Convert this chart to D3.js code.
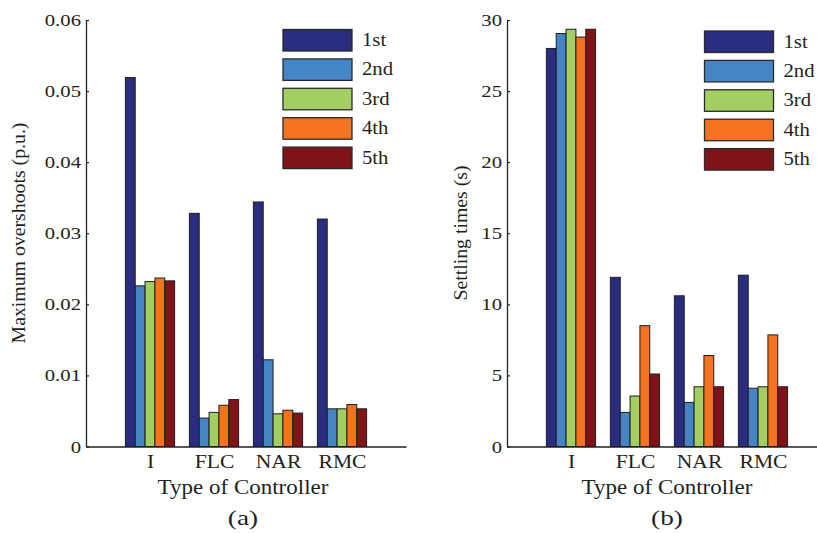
<!DOCTYPE html>
<html>
<head>
<meta charset="utf-8">
<script src="https://cdn.jsdelivr.net/npm/d3@7"></script>
<style>
  html, body { margin: 0; padding: 0; background: #fff; }
  svg { display: block; }
  text { font-family: "Liberation Serif", "Times New Roman", serif; fill: #231f20; }
</style>
</head>
<body>
<svg id="chart" width="817" height="533"></svg>
<script>
// ---------------- DATA ----------------
const categories = ["I", "FLC", "NAR", "RMC"];
const seriesNames = ["1st", "2nd", "3rd", "4th", "5th"];
// Panel (a): Maximum overshoots (p.u.), one array per series (values per controller)
const overshoot1st = [0.0519, 0.0328, 0.0344, 0.0320];
const overshoot2nd = [0.0226, 0.0040, 0.0122, 0.0053];
const overshoot3rd = [0.0232, 0.0048, 0.0046, 0.0053];
const overshoot4th = [0.0237, 0.0058, 0.0051, 0.0059];
const overshoot5th = [0.0233, 0.0066, 0.0047, 0.0053];
// Panel (b): Settling times (s)
const settling1st = [28.0, 11.9, 10.6, 12.05];
const settling2nd = [29.05, 2.4, 3.1, 4.1];
const settling3rd = [29.35, 3.55, 4.2, 4.2];
const settling4th = [28.8, 8.5, 6.4, 7.85];
const settling5th = [29.35, 5.1, 4.2, 4.2];
// Tick labels
const overshootTicks = [0, 0.01, 0.02, 0.03, 0.04, 0.05, 0.06];
const overshootTickLabels = ["0", "0.01", "0.02", "0.03", "0.04", "0.05", "0.06"];
const settlingTicks = [0, 5, 10, 15, 20, 25, 30];
const settlingTickLabels = ["0", "5", "10", "15", "20", "25", "30"];

const colors = ["#2a2c7f", "#4485c5", "#a3cf62", "#f47321", "#7f1418"];

// ---------------- DRAW ----------------
const svg = d3.select("#chart");

function stretchedText(g, x, y, str, size, anchor, sx) {
  const t = g.append("g").attr("transform", `translate(${x},${y}) scale(${sx},1)`);
  t.append("text")
    .attr("x", 0).attr("y", 0)
    .attr("text-anchor", anchor)
    .attr("font-size", size)
    .text(str);
  return t;
}

function panel(opts) {
  const g = svg.append("g");
  const x = d3.scaleLinear().domain([0, 5]).range([opts.x0, opts.x0 + 320]);
  const y = d3.scaleLinear().domain(opts.domain).range([446.5, 20]);
  const groupWidth = Math.min(0.8, 5 / 6.5);
  const inner = d3.scaleBand().domain(seriesNames).range([-groupWidth / 2, groupWidth / 2]).padding(0);

  const data = [];
  opts.series.forEach((vals, si) => {
    vals.forEach((v, ci) => data.push({ s: seriesNames[si], si, ci, v }));
  });

  g.selectAll("rect.bar").data(data).enter().append("rect")
    .attr("class", "bar")
    .attr("x", d => x(d.ci + 1 + inner(d.s)))
    .attr("width", d => x(inner.bandwidth()) - x(0))
    .attr("y", d => y(d.v))
    .attr("height", d => y(0) - y(d.v))
    .attr("fill", d => colors[d.si])
    .attr("stroke", "#1e1e1e")
    .attr("stroke-width", 1);

  // Y axis
  const yAxis = d3.axisLeft(y).tickValues(opts.ticks)
    .tickFormat((d, i) => opts.tickLabels[i])
    .tickSize(-3).tickPadding(5).tickSizeOuter(0);
  const ya = g.append("g").attr("transform", `translate(${opts.x0},0)`).call(yAxis);
  ya.select(".domain").attr("stroke", "#222").attr("stroke-width", 1.3);
  ya.selectAll(".tick line").attr("stroke", "#222").attr("stroke-width", 1.2);
  ya.selectAll(".tick text").remove();
  ya.selectAll(".tick").each(function (d, i) {
    stretchedText(d3.select(this), -5, 5.5, opts.tickLabels[i], 17, "end", 1.22);
  });

  // X axis
  const xAxis = d3.axisBottom(x).tickValues([1, 2, 3, 4])
    .tickFormat((d, i) => categories[i]).tickSize(0).tickPadding(0).tickSizeOuter(0);
  const xa = g.append("g").attr("transform", "translate(0,446.5)").call(xAxis);
  xa.select(".domain").attr("stroke", "#222").attr("stroke-width", 1.5);
  xa.selectAll(".tick text").remove();
  xa.selectAll(".tick").each(function (d, i) {
    stretchedText(d3.select(this), 0, 21, categories[i], 18, "middle", 1.2);
  });

  // Axis titles
  stretchedText(g, opts.titleX, 494, "Type of Controller", 21.5, "middle", 1.07);
  const yt = g.append("g").attr("transform", `translate(${opts.yTitleX},233) rotate(-90)`);
  stretchedText(yt, 0, 0, opts.yTitle, 18, "middle", 1.1);
  stretchedText(g, opts.titleX, 525, opts.caption, 21, "middle", 1.3);

  // Legend
  const lg = g.append("g");
  seriesNames.forEach((name, i) => {
    const top = opts.legendY + i * 29.4;
    lg.append("rect")
      .attr("x", opts.legendX).attr("y", top)
      .attr("width", 69).attr("height", 21.5)
      .attr("fill", colors[i]).attr("stroke", "#2a2a2a").attr("stroke-width", 1.3);
    stretchedText(lg, opts.legendX + 79, top + 16.5, name, 18.5, "start", 1.12);
  });
}

panel({
  x0: 86, domain: [0, 0.06], ticks: overshootTicks, tickLabels: overshootTickLabels,
  series: [overshoot1st, overshoot2nd, overshoot3rd, overshoot4th, overshoot5th],
  yTitle: "Maximum overshoots (p.u.)", yTitleX: 25, titleX: 243, caption: "(a)",
  legendX: 283, legendY: 29.5
});
panel({
  x0: 507, domain: [0, 30], ticks: settlingTicks, tickLabels: settlingTickLabels,
  series: [settling1st, settling2nd, settling3rd, settling4th, settling5th],
  yTitle: "Settling times (s)", yTitleX: 467, titleX: 667, caption: "(b)",
  legendX: 704.5, legendY: 31
});
</script>
</body>
</html>
